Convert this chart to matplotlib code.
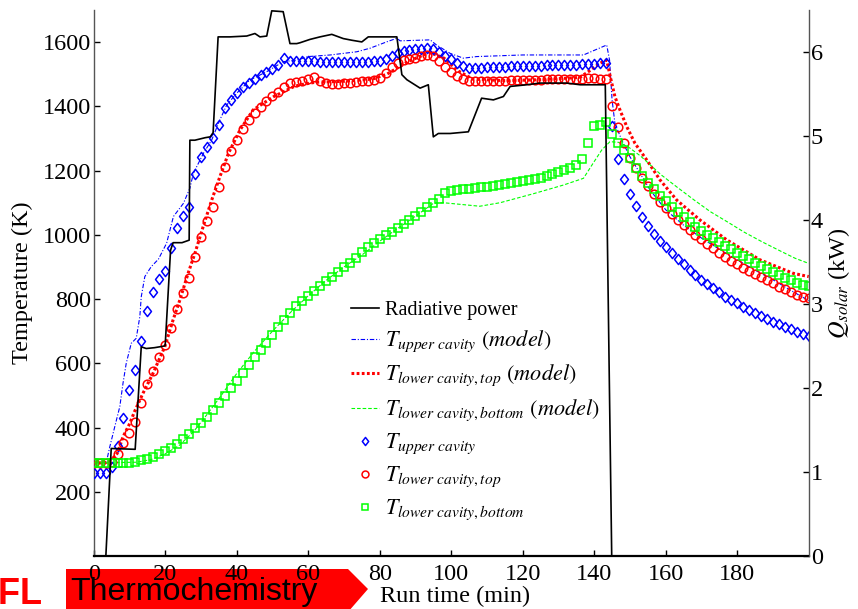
import numpy as np
import matplotlib
matplotlib.use("Agg")
import matplotlib.pyplot as plt
from matplotlib.path import Path
from matplotlib.patches import Polygon

SERIF = ["Liberation Serif", "DejaVu Serif"]
plt.rcParams["font.family"] = SERIF
plt.rcParams["mathtext.fontset"] = "stix"
plt.rcParams["lines.scale_dashes"] = False

# ---------------------------------------------------------------------------
# Measured cavity temperatures (K), logged every 100 s
# ---------------------------------------------------------------------------
SAMPLE_STEP_MIN = 100.0 / 60.0

T_upper_meas = [
    259, 259, 259, 276, 342, 431, 517, 579, 670, 764,
    823, 861, 888, 958, 1020, 1059, 1088, 1189, 1241, 1272,
    1300, 1342, 1394, 1420, 1443, 1459, 1474, 1486, 1498, 1506,
    1516, 1529, 1550, 1542, 1540, 1542, 1541, 1540, 1538, 1537,
    1537, 1537, 1537, 1537, 1538, 1538, 1539, 1540, 1542, 1548,
    1556, 1566, 1573, 1576, 1578, 1580, 1582, 1580, 1570, 1558,
    1546, 1536, 1526, 1520, 1518, 1520, 1521, 1522, 1523, 1524,
    1525, 1525, 1526, 1526, 1527, 1527, 1528, 1528, 1529, 1529,
    1530, 1530, 1531, 1532, 1533, 1534, 1534, 1340, 1236, 1174,
    1126, 1090, 1057, 1029, 1003, 982, 963, 942, 924, 908,
    890, 875, 859, 846, 833, 821, 807, 797, 787, 776,
    766, 758, 747, 738, 730, 722, 714, 706, 698, 691,
    685,
]

T_lower_top_meas = [
    290, 290, 290, 292, 318, 351, 384, 418, 477, 536,
    577, 619, 657, 709, 768, 820, 865, 932, 992, 1044,
    1088, 1148, 1210, 1262, 1295, 1328, 1358, 1378, 1399, 1416,
    1432, 1446, 1461, 1474, 1477, 1480, 1485, 1490, 1478, 1472,
    1470, 1470, 1472, 1474, 1476, 1478, 1480, 1483, 1488, 1505,
    1522, 1535, 1543, 1548, 1552, 1556, 1560, 1556, 1540, 1522,
    1508, 1495, 1486, 1480, 1478, 1478, 1479, 1479, 1480, 1480,
    1481, 1481, 1482, 1482, 1483, 1483, 1484, 1484, 1485, 1485,
    1486, 1486, 1486, 1487, 1487, 1486, 1485, 1402, 1335, 1285,
    1238, 1207, 1178, 1152, 1127, 1103, 1085, 1065, 1046, 1030,
    1015, 999, 986, 971, 958, 944, 932, 919, 909, 898,
    887, 878, 868, 858, 849, 838, 830, 822, 814, 807,
    803,
]

T_lower_bottom_meas = [
    290, 290, 290, 290, 290, 291, 291, 294, 298, 303,
    309, 317, 327, 337, 350, 363, 379, 397, 415, 434,
    454, 477, 498, 522, 545, 571, 594, 619, 642, 664,
    687, 712, 735, 758, 777, 794, 810, 825, 841, 855,
    870, 884, 899, 913, 928, 945, 962, 975, 987, 999,
    1010, 1020, 1034, 1046, 1059, 1072, 1086, 1098, 1111, 1129,
    1136, 1140, 1142, 1144, 1147, 1148, 1150, 1152, 1155, 1157,
    1160, 1163, 1167, 1171, 1174, 1178, 1183, 1189, 1195, 1202,
    1209, 1217, 1235, 1285, 1339, 1342, 1350, 1313, 1285, 1264,
    1238, 1209, 1183, 1160, 1142, 1122, 1106, 1088, 1072, 1057,
    1041, 1025, 1012, 999, 989, 979, 966, 955, 944, 934,
    924, 913, 903, 894, 884, 875, 867, 859, 851, 844,
    840,
]

t_meas = np.arange(len(T_upper_meas)) * SAMPLE_STEP_MIN

# ---------------------------------------------------------------------------
# Model predictions (K)
# ---------------------------------------------------------------------------
upper_model_t = [0, 3.5, 4.5, 5.9, 7.3, 8.2, 9.1, 10.5, 11.9, 12.9, 13.3, 14.3,
                 16.1, 18.1, 20.4, 22.3, 25.1, 26.9, 27.9, 30.7, 33.0, 35.3,
                 37.2, 40.0, 43.7, 48.4, 53.0, 56.8, 60.0, 66.2, 73.6, 77.3,
                 82.0, 84.8, 85.7, 94.1, 95.9, 99.7, 103.4, 107.1, 120.0, 137.0,
                 143.5, 144.3, 145.0, 145.8, 147.7, 150.0, 152.8, 155.6, 160,
                 165, 170, 175, 180, 185, 190, 195, 200]
upper_model_T = [290, 290, 340, 403, 465, 538, 600, 662, 678, 745, 807, 870,
                 901, 924, 974, 1057, 1098, 1145, 1192, 1254, 1295, 1358,
                 1404, 1441, 1482, 1508, 1539, 1544, 1555, 1560, 1570, 1581,
                 1601, 1612, 1604, 1607, 1591, 1565, 1550, 1555, 1560, 1560,
                 1591, 1544, 1420, 1347, 1295, 1243, 1192, 1140, 1078,
                 1030, 990, 955, 922, 890, 860, 827, 795]

top_model_t = [0, 3.2, 5.0, 6.6, 8.2, 10.1, 11.4, 13.8, 16.6, 19.9, 22.2, 24.1,
               26.4, 28.3, 30.6, 33.0, 35.3, 37.7, 40.9, 44.6, 50.3, 55.9,
               57.7, 62, 70, 78, 82, 85, 88, 94, 98, 102, 106, 115, 125, 136,
               139, 141.6, 143.5, 144.5, 145.8, 147.2, 149.1, 151.4, 154.7,
               158.4, 163.1, 169.6, 177.1, 186.4, 195.7, 200]
top_model_T = [290, 290, 300, 320, 371, 413, 449, 507, 569, 652, 735, 797,
               880, 942, 1025, 1108, 1181, 1254, 1326, 1389, 1430, 1461,
               1467, 1475, 1478, 1485, 1500, 1520, 1540, 1568, 1550, 1510,
               1485, 1480, 1483, 1490, 1513, 1534, 1544, 1492, 1430, 1389,
               1337, 1285, 1233, 1171, 1108, 1046, 984, 922, 880, 870]

bottom_model_t = [0, 12, 16, 20, 24, 28, 32, 36, 40, 45, 50, 55, 60, 65, 70,
                  75, 80, 85, 90, 95, 97.8, 101.5, 108, 113.7, 123, 131.4,
                  137, 139.7, 142.1, 144.4, 146.8, 149.5, 153, 158.7, 163,
                  168, 172.5, 177.3, 182, 187, 192, 196.2, 200]
bottom_model_T = [290, 292, 300, 318, 345, 388, 445, 505, 568, 638, 700, 758,
                  810, 858, 900, 937, 980, 1020, 1058, 1098, 1100, 1096,
                  1089, 1100, 1128, 1155, 1176, 1223, 1264, 1290, 1288,
                  1274, 1245, 1187, 1150, 1108, 1072, 1040, 1008, 978, 950,
                  927, 911]

# ---------------------------------------------------------------------------
# Concentrated solar radiative power input (kW)
# ---------------------------------------------------------------------------
power_t = [0, 3.4, 4.9, 11.6, 13.3, 14.7, 17.0, 19.8, 20.0, 21.5, 22.2, 24.7,
           26.7, 26.9, 28.3, 31.2, 32.6, 33.4, 34.8, 38.1, 42.8, 45.1, 46.5,
           48.4, 49.8, 53.0, 54.9, 56.8, 57.7, 60.5, 63.3, 66.6, 69.8, 72.2,
           75.0, 76.8, 84.8, 86.2, 87.6, 91.3, 93.6, 95.0, 96.4, 99.7, 104.8,
           108.5, 111.8, 114.6, 116.5, 121.1, 124.8, 128.6, 132.3, 136.1,
           143.1, 144.9, 200]
power_kw = [0, 0, 1.28, 1.27, 2.49, 2.47, 2.48, 2.50, 2.51, 3.64, 3.73, 3.73,
            3.76, 4.95, 4.95, 4.98, 4.99, 5.04, 6.18, 6.18, 6.19, 6.22, 6.18,
            6.19, 6.49, 6.48, 6.10, 6.10, 6.11, 6.15, 6.18, 6.21, 6.16, 6.14,
            6.12, 6.18, 6.18, 5.73, 5.67, 5.57, 5.61, 4.99, 5.03, 5.03, 5.05,
            5.45, 5.43, 5.47, 5.59, 5.61, 5.63, 5.63, 5.63, 5.61,
            5.61, 0, 0]

x_ticks = [0, 20, 40, 60, 80, 100, 120, 140, 160, 180]
T_ticks = [200, 400, 600, 800, 1000, 1200, 1400, 1600]
Q_ticks = [0, 1, 2, 3, 4, 5, 6]

BLUE, RED, GREEN = "#0000ff", "#ff0000", "#00ff00"

diamond = Path([(0, 1), (0.78, 0), (0, -1), (-0.78, 0), (0, 1)],
               [Path.MOVETO, Path.LINETO, Path.LINETO, Path.LINETO, Path.CLOSEPOLY])

W, H = 858, 609
fig = plt.figure(figsize=(W / 100, H / 100), dpi=100)
left, right, bottom, top = 93.7, 808.7, 556, 10
ax = fig.add_axes([left / W, 1 - bottom / H, (right - left) / W, (bottom - top) / H])
ax2 = ax.twinx()

# model curves
l_up, = ax.plot(upper_model_t, upper_model_T, color=BLUE, lw=0.8,
                dashes=(3.2, 1.3, 0.8, 1.3), zorder=3)
l_top, = ax.plot(top_model_t, top_model_T, color=RED, lw=2.2,
                 dashes=(2.0, 1.7), zorder=3)
l_bot, = ax.plot(bottom_model_t, bottom_model_T, color=GREEN, lw=0.8,
                 dashes=(2.6, 1.4), zorder=3)

# measurements
m_up, = ax.plot(t_meas, T_upper_meas, ls="none", marker=diamond, ms=7.3,
                mfc="none", mec=BLUE, mew=1.1, zorder=4)
m_top, = ax.plot(t_meas, T_lower_top_meas, ls="none", marker="o", ms=6.2,
                 mfc="none", mec=RED, mew=1.1, zorder=4)
m_bot, = ax.plot(t_meas, T_lower_bottom_meas, ls="none", marker="s", ms=5.1,
                 mfc="none", mec=GREEN, mew=1.1, zorder=4)

# solar power on the secondary axis
l_pow, = ax2.plot(power_t, power_kw, color="black", lw=1.2, zorder=5)

ax.set_xlim(0, 200)
ax.set_ylim(0, 1700)
ax2.set_ylim(0, 6.5)
ax.set_xticks(x_ticks)
ax.set_yticks(T_ticks)
ax2.set_yticks(Q_ticks)

for a in (ax, ax2):
    a.spines["top"].set_visible(False)
ax.spines["right"].set_visible(False)
ax.spines["left"].set_color("#555555")
ax.spines["left"].set_linewidth(1.0)
ax.spines["bottom"].set_linewidth(1.6)
ax2.spines["left"].set_visible(False)
ax2.spines["bottom"].set_visible(False)
ax2.spines["right"].set_color("#555555")
ax2.spines["right"].set_linewidth(1.0)

ax.xaxis.set_ticks_position("bottom")
ax.yaxis.set_ticks_position("left")
ax.tick_params(axis="x", direction="in", length=4.5, width=1.0, pad=6.0,
               labelsize=17.5)
ax.tick_params(axis="y", direction="in", length=4.5, width=1.0, pad=2,
               labelsize=17.5)
ax2.tick_params(axis="y", direction="in", length=4.5, width=1.0, pad=1.5,
                labelsize=17.5)
for lab in ax.get_xticklabels() + ax.get_yticklabels() + ax2.get_yticklabels():
    lab.set_fontfamily(SERIF)

ax.set_xlabel("Run time (min)", fontsize=17.5)
ax.xaxis.set_label_coords(0.505, -0.054)
ax.set_ylabel("Temperature (K)", fontsize=17.5)
ax.yaxis.set_label_coords(-0.085, 0.5)
ax2.set_ylabel(r"$Q_{solar}$ (kW)", fontsize=17.5)
ax2.yaxis.set_label_coords(1.024, 0.5)

handles = [l_pow, l_up, l_top, l_bot, m_up, m_top, m_bot]
labels = [
    "Radiative power",
    r"$T_{upper\ cavity}$ $\mathit{(model)}$",
    r"$T_{lower\ cavity,top}$ $\mathit{(model)}$",
    r"$T_{lower\ cavity,bottom}$ $\mathit{(model)}$",
    r"$T_{upper\ cavity}$",
    r"$T_{lower\ cavity,top}$",
    r"$T_{lower\ cavity,bottom}$",
]
leg = ax2.legend(handles, labels, loc="upper left",
                 bbox_to_anchor=(351 / W, 1 - 301 / H),
                 bbox_transform=fig.transFigure,
                 frameon=False, fontsize=14.5, handlelength=1.4,
                 handletextpad=0.3, labelspacing=0.43, borderpad=0,
                 borderaxespad=0, markerscale=0.8, numpoints=1)
for txt in leg.get_texts()[1:]:
    txt.set_fontsize(16)

# slide footer: logo fragment and section banner
banner = Polygon([(66 / W, 1 - 569 / H), (348 / W, 1 - 569 / H),
                  (368 / W, 1 - 589 / H), (348 / W, 1 - 612 / H),
                  (66 / W, 1 - 612 / H)], closed=True,
                 transform=fig.transFigure, facecolor="#ff0000",
                 edgecolor="none", zorder=-1)
fig.patches.append(banner)
fig.text(70 / W, 1 - 600 / H, "Thermochemistry", fontsize=23,
         family=["Liberation Sans", "DejaVu Sans"], color="black",
         ha="left", va="baseline")
fig.text(43 / W, 1 - 604 / H, "EPFL", fontsize=26, fontweight="bold",
         family=["Liberation Sans", "DejaVu Sans"], color="#ff0000",
         ha="right", va="baseline")

fig.savefig("out.png", dpi=100)
